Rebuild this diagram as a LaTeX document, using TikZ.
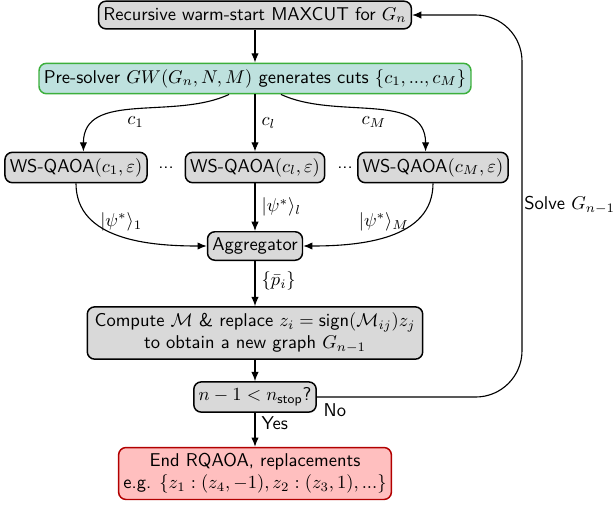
\documentclass[tikz,border=0pt]{standalone}
\usepackage{amsmath,amssymb}
\usetikzlibrary{arrows.meta}
\renewcommand{\familydefault}{\sfdefault}

\begin{document}
\begin{tikzpicture}[x=0.54pt,y=-0.54pt,
  box/.style={draw=black,thick,fill=gray!30,rounded corners=4pt,inner xsep=2.6pt,inner ysep=3.2pt,align=center},
  gwbox/.style={box,draw={rgb,255:red,60;green,175;blue,60},fill={rgb,255:red,190;green,225;blue,222}},
  endbox/.style={box,draw=red!70!black,fill=red!25},
  arr/.style={-{Latex[length=5pt,width=4pt]},semithick}]
\useasboundingbox (0,0) rectangle (614,506);

% Boxes
\node[box] (maxcut) at (255,15) {Recursive warm-start MAXCUT for $G_n$};
\node[gwbox] (gw) at (255,78.5) {Pre-solver $GW(G_n,N,M)$ generates cuts $\{c_1,...,c_M\}$};
\node[box] (ws1) at (76,167.5) {WS-QAOA$(c_1,\varepsilon)$};
\node[box] (ws2) at (255,167.5) {WS-QAOA$(c_l,\varepsilon)$};
\node[box] (ws3) at (433,167.5) {WS-QAOA$(c_M,\varepsilon)$};
\node (dots1) at (166,168) {...};
\node (dots2) at (345,168) {...};
\node[box] (agg) at (255,246) {Aggregator};
\node[box,inner xsep=4pt] (comp) at (255,333) {Compute $\mathcal{M}$ \& replace $z_i=\text{sign}(\mathcal{M}_{ij})z_j$\\ to obtain a new graph $G_{n-1}$};
\node[box] (stop) at (255,397) {$n-1<n_{\text{stop}}$?};
\node[endbox] (done) at (255,473.5) {End RQAOA, replacements\\ e.g. $\{z_1:(z_4,-1),z_2:(z_3,1),...\}$};

% Arrows
\draw[arr] (maxcut) -- (gw);
\draw[arr] ([xshift=-14pt]gw.south) to[out=-155,in=90] node[pos=.5,below] (lc1) {$c_1$} ([xshift=4pt]ws1.north);
\draw[arr] (gw) -- node[right] (lcl) {$c_l$} (ws2);
\draw[arr] ([xshift=14pt]gw.south) to[out=-25,in=90] node[pos=.5,below] (lcM) {$c_M$} ([xshift=-4pt]ws3.north);

\draw[arr] (ws1.south) to[out=-90,in=180] node[pos=.3,right] (lp1) {$|\psi^*\rangle_1$} (agg.west);
\draw[arr] (ws2) -- node[right] (lpl) {$|\psi^*\rangle_l$} (agg);
\draw[arr] (ws3.south) to[out=-90,in=0] node[pos=.3,left] (lpM) {$|\psi^*\rangle_M$} (agg.east);

\draw[arr] (agg) -- node[right,pos=.45] (lp) {$\{\bar{p}_i\}$} (comp);
\draw[arr] (comp) -- (stop);
\draw[arr] (stop) -- node[pos=.3,right] (lyes) {Yes} (done);

% loop back
\coordinate (back) at (522,205);
\draw[arr,rounded corners=25pt] (stop.east) node[below right] (lno) {No} -| (back) node[right,inner sep=1pt] (lsolve) {Solve $G_{n-1}$} |- (maxcut.east);
\end{tikzpicture}
\end{document}
